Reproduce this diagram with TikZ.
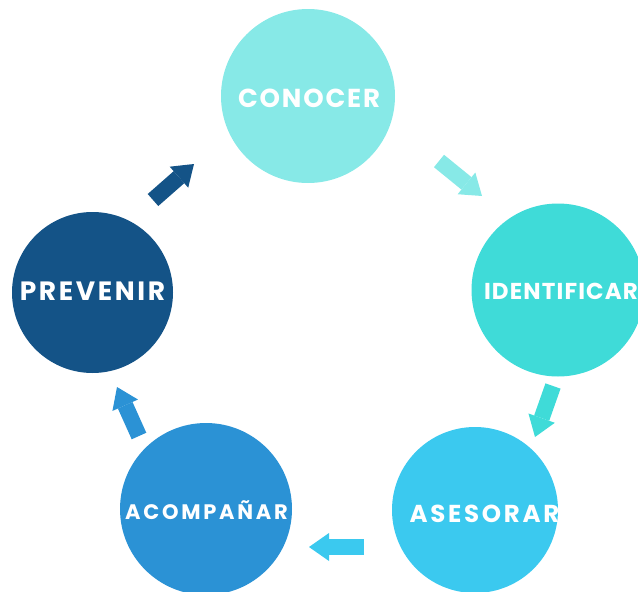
\documentclass[tikz,border=0pt]{standalone}
\usepackage{fontspec}
\setmainfont{Poppins}
\usetikzlibrary{arrows.meta}
\definecolor{cA}{HTML}{87E9E7}
\definecolor{cB}{HTML}{3FDBD8}
\definecolor{cC}{HTML}{3BC9EF}
\definecolor{cD}{HTML}{2B92D5}
\definecolor{cE}{HTML}{145387}
\begin{document}
\begin{tikzpicture}[x=1pt,y=-1pt,
  circ/.style={circle, minimum size=#1, inner sep=0pt, draw=none},
  lbl/.style 2 args={text=white, inner sep=0pt, anchor=base,
    font=\fontsize{#1}{#1}\bfseries\addfontfeatures{LetterSpace=#2}\selectfont},
  blk/.style={line width=16pt, -{Triangle[length=20pt,width=28pt,line width=0pt]}}
]
\useasboundingbox (0,0) rectangle (638,592);
\clip (0,0) rectangle (638,592);
% circles
\node[circ=174pt, fill=cA] (con) at (308,96) {};
\node[circ=173pt, fill=cB] (ide) at (558,290) {};
\node[circ=166pt, fill=cC] (ase) at (475,510) {};
\node[circ=172pt, fill=cD] (aco) at (206,509) {};
\node[circ=161pt, fill=cE] (pre) at (92.5,292.5) {};
% labels
\node[lbl={26}{7}] (tcon) at (309,107) {CONOCER};
\node[lbl={23}{5}] (tide) at (561,299) {IDENTIFICAR};
\node[lbl={24.5}{11}] (tase) at (484.5,522) {ASESORAR};
\node[lbl={21}{13}] (taco) at (206.5,519) {ACOMPAÑAR};
\node[lbl={26.5}{10}] (tpre) at (92.5,300) {PREVENIR};
% arrow ends
\coordinate (t1) at (439,161); \coordinate (h1) at (482,196);
\coordinate (t2) at (553,386); \coordinate (h2) at (535,437);
\coordinate (t3) at (364,547); \coordinate (h3) at (309,547);
\coordinate (t4) at (139,436); \coordinate (h4) at (117,387);
\coordinate (t5) at (153,200); \coordinate (h5) at (194,164);
\draw[blk, cA] (t1) -- (h1);
\draw[blk, cB] (t2) -- (h2);
\draw[blk, cC] (t3) -- (h3);
\draw[blk, cD] (t4) -- (h4);
\draw[blk, cE] (t5) -- (h5);
\end{tikzpicture}
\end{document}
